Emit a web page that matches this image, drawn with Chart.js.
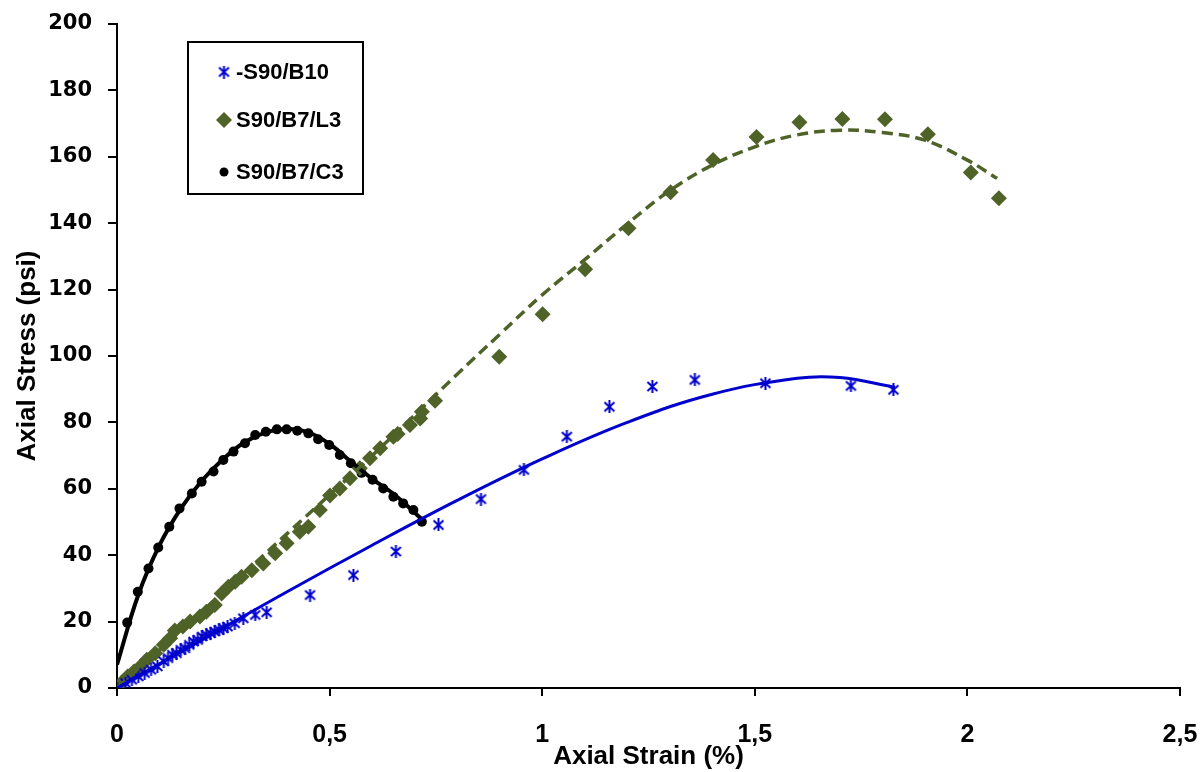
<!DOCTYPE html>
<html>
<head>
<meta charset="utf-8">
<script src="https://cdn.jsdelivr.net/npm/chart.js@4.4.1/dist/chart.umd.min.js"></script>
<style>
  html, body { margin: 0; padding: 0; background: #fff; }
  #wrap { width: 1200px; height: 772px; }
</style>
</head>
<body>
<div id="wrap"><canvas id="stressChart"></canvas></div>
<script>
// S90/B10 measured points
const b10Strain = [0, 0.02, 0.035, 0.05, 0.065, 0.08, 0.095, 0.11, 0.12, 0.13, 0.14, 0.15, 0.16, 0.17, 0.18, 0.19, 0.2, 0.21, 0.22, 0.23, 0.24, 0.25, 0.26, 0.277, 0.297, 0.325, 0.352, 0.454, 0.556, 0.656, 0.756, 0.856, 0.957, 1.058, 1.158, 1.259, 1.359, 1.525, 1.726, 1.826];
const b10Stress = [0, 1.5, 2.5, 3.5, 4.5, 5.5, 6.5, 8, 9, 10, 10.5, 11.5, 12, 13, 14, 14.5, 15.5, 16, 16.5, 17, 17.5, 18, 18.5, 19.5, 21, 22, 22.8, 28, 34, 41.1, 49.1, 56.9, 65.7, 75.7, 84.7, 90.8, 92.8, 91.8, 91, 89.8];
// S90/B7/L3 measured points
const l3Strain = [0, 0.01, 0.025, 0.04, 0.055, 0.07, 0.09, 0.11, 0.125, 0.136, 0.155, 0.172, 0.195, 0.21, 0.23, 0.246, 0.262, 0.278, 0.293, 0.317, 0.344, 0.372, 0.399, 0.43, 0.45, 0.477, 0.501, 0.524, 0.548, 0.571, 0.595, 0.619, 0.65, 0.66, 0.689, 0.713, 0.717, 0.748, 0.899, 1.001, 1.101, 1.203, 1.302, 1.402, 1.504, 1.605, 1.706, 1.806, 1.907, 2.008, 2.074];
const l3Stress = [0, 1.5, 3.5, 5, 6.5, 8.5, 10.5, 13, 15, 17.3, 18.5, 20, 21.5, 23, 25, 28.5, 30.5, 32, 33.5, 35.5, 37.5, 40.6, 43.6, 47.1, 48.6, 53.6, 58, 60.1, 63.2, 66.2, 69.2, 72.2, 75.7, 76.5, 79.2, 81.2, 83.2, 86.5, 99.8, 112.6, 126.1, 138.5, 149.3, 159, 166, 170.4, 171.4, 171.3, 166.8, 155.3, 147.5];
// S90/B7/C3 measured points
const c3Strain = [0, 0.024, 0.049, 0.074, 0.097, 0.123, 0.147, 0.176, 0.199, 0.227, 0.25, 0.274, 0.301, 0.325, 0.35, 0.376, 0.399, 0.424, 0.45, 0.473, 0.499, 0.524, 0.55, 0.575, 0.601, 0.626, 0.65, 0.673, 0.697, 0.717];
const c3Stress = [0, 19.7, 29, 36, 42.3, 48.6, 54.1, 58.6, 62.1, 65.2, 68.7, 71.2, 73.7, 76.2, 77.2, 77.9, 77.9, 77.5, 76.7, 74.9, 73.2, 70.2, 67.7, 64.8, 62.7, 60.1, 57.6, 55.6, 53.6, 50.1];

// trend lines
const b10TrendStrain = [0, 0.2, 0.4, 0.6, 0.8, 1.0, 1.2, 1.4, 1.6, 1.7, 1.83];
const b10TrendStress = [0, 14.5, 29, 43, 56.5, 69, 80, 88.5, 93.3, 93.5, 90.6];
const l3TrendStrain = [0, 0.2, 0.4, 0.6, 0.8, 0.9, 1.0, 1.1, 1.2, 1.3, 1.4, 1.5, 1.6, 1.7, 1.8, 1.9, 2.0, 2.07];
const l3TrendStress = [0, 23, 46.5, 70, 94.5, 106.5, 118.4, 129, 139.8, 149.8, 157.5, 163, 166.6, 168, 167.3, 165, 159, 153.5];
const c3TrendStrain = [0, 0.05, 0.1, 0.15, 0.2, 0.25, 0.3, 0.35, 0.4, 0.45, 0.5, 0.55, 0.6, 0.65, 0.72];
const c3TrendStress = [7, 28, 43, 54, 62.5, 69, 74, 77, 78, 77, 73.5, 68.2, 63, 58.5, 50.5];

const seriesNames = ["-S90/B10", "S90/B7/L3", "S90/B7/C3"];
const xTicks = [0, 0.5, 1, 1.5, 2, 2.5];
const yTicks = [0, 20, 40, 60, 80, 100, 120, 140, 160, 180, 200];

const blue = "#0000cc";
const green = "#4f6228";
const black = "#000000";

function pts(xs, ys) {
    return xs.map((x, i) => ({ x: x, y: ys[i] }));
}

// asterisk marker like the Excel one (X with a vertical stroke)
function makeAsterisk(color, size) {
    const c = document.createElement("canvas");
    c.width = size; c.height = size;
    const g = c.getContext("2d");
    g.strokeStyle = color;
    g.lineWidth = 2;
    g.beginPath();
    g.moveTo(1.5, 2); g.lineTo(size - 1.5, size - 2);
    g.moveTo(size - 1.5, 2); g.lineTo(1.5, size - 2);
    g.moveTo(size / 2, 0); g.lineTo(size / 2, size);
    g.stroke();
    return c;
}
const asterisk = makeAsterisk(blue, 13);

// legend drawn inside the plot like the original
const boxLegend = {
    id: "boxLegend",
    afterDraw(chart) {
        const ctx = chart.ctx;
        ctx.save();
        ctx.strokeStyle = "#000";
        ctx.lineWidth = 2;
        ctx.fillStyle = "#fff";
        ctx.fillRect(188, 42, 175, 152);
        ctx.strokeRect(188, 42, 175, 152);
        const rows = [72, 120, 172];
        const markers = [
            { style: asterisk, r: 5, color: blue },
            { style: "rectRot", r: 8, color: green },
            { style: "circle", r: 4.5, color: black }
        ];
        ctx.font = "bold 22px 'Liberation Sans', Arial, sans-serif";
        ctx.textBaseline = "middle";
        rows.forEach((y, i) => {
            const m = markers[i];
            ctx.fillStyle = m.color;
            ctx.strokeStyle = m.color;
            Chart.helpers.drawPoint(ctx, { pointStyle: m.style, radius: m.r, borderWidth: 0, rotation: 0 }, 224, y);
            ctx.fillStyle = "#000";
            ctx.fillText(seriesNames[i], 236, y + 1);
        });
        ctx.restore();
    }
};

const ctx = document.getElementById("stressChart").getContext("2d");
new Chart(ctx, {
    type: "scatter",
    data: {
        datasets: [
            {
                label: seriesNames[0] + " trend",
                data: pts(b10TrendStrain, b10TrendStress),
                showLine: true, tension: 0.4, pointRadius: 0,
                borderColor: blue, borderWidth: 3, order: 0
            },
            {
                label: seriesNames[1] + " trend",
                data: pts(l3TrendStrain, l3TrendStress),
                showLine: true, tension: 0.4, pointRadius: 0,
                borderColor: green, borderWidth: 3.5, borderDash: [11, 6], order: 0
            },
            {
                label: seriesNames[2] + " trend",
                data: pts(c3TrendStrain, c3TrendStress),
                showLine: true, tension: 0.4, pointRadius: 0,
                borderColor: black, borderWidth: 4, order: 0
            },
            {
                label: seriesNames[0],
                data: pts(b10Strain, b10Stress),
                pointStyle: asterisk, pointRadius: 6,
                backgroundColor: blue, borderColor: blue, order: 1
            },
            {
                label: seriesNames[1],
                data: pts(l3Strain, l3Stress),
                pointStyle: "rectRot", pointRadius: 8,
                backgroundColor: green, borderColor: green, borderWidth: 0, order: 1
            },
            {
                label: seriesNames[2],
                data: pts(c3Strain, c3Stress),
                pointStyle: "circle", pointRadius: 5,
                backgroundColor: black, borderColor: black, borderWidth: 0, order: 1
            }
        ]
    },
    options: {
        responsive: true,
        maintainAspectRatio: false,
        animation: false,
        layout: { padding: { left: 0, right: 20, top: 24, bottom: 0 } },
        plugins: {
            legend: { display: false },
            tooltip: { enabled: false }
        },
        scales: {
            x: {
                type: "linear",
                min: 0, max: 2.5,
                afterBuildTicks: s => { s.ticks = xTicks.map(v => ({ value: v })); },
                afterFit: s => { s.height = 84; s.paddingLeft = 0; s.paddingRight = 0; },
                border: { color: "#000", width: 2 },
                grid: { drawOnChartArea: false, drawTicks: true, tickLength: 8, color: "#000", lineWidth: 2 },
                ticks: {
                    color: "#000",
                    padding: 24,
                    font: { family: "'Liberation Sans', Arial, sans-serif", size: 25, weight: "bold" },
                    callback: v => String(v).replace(".", ",")
                },
                title: {
                    display: true,
                    text: "Axial Strain (%)",
                    color: "#000",
                    padding: { top: 0, bottom: 0 },
                    font: { family: "'Liberation Sans', Arial, sans-serif", size: 26, weight: "bold" }
                }
            },
            y: {
                type: "linear",
                min: 0, max: 200,
                afterBuildTicks: s => { s.ticks = yTicks.map(v => ({ value: v })); },
                afterFit: s => { s.width = 117; s.paddingTop = 0; s.paddingBottom = 0; },
                border: { color: "#000", width: 2 },
                grid: { drawOnChartArea: false, drawTicks: true, tickLength: 9, color: "#000", lineWidth: 2 },
                ticks: {
                    color: "#000",
                    padding: 16,
                    font: { family: "'DejaVu Sans', Verdana, sans-serif", size: 21, weight: "bold" }
                },
                title: {
                    display: true,
                    text: "Axial Stress (psi)",
                    color: "#000",
                    padding: { top: 12, bottom: 0 },
                    font: { family: "'Liberation Sans', Arial, sans-serif", size: 26, weight: "bold" }
                }
            }
        }
    },
    plugins: [boxLegend]
});
</script>
</body>
</html>
